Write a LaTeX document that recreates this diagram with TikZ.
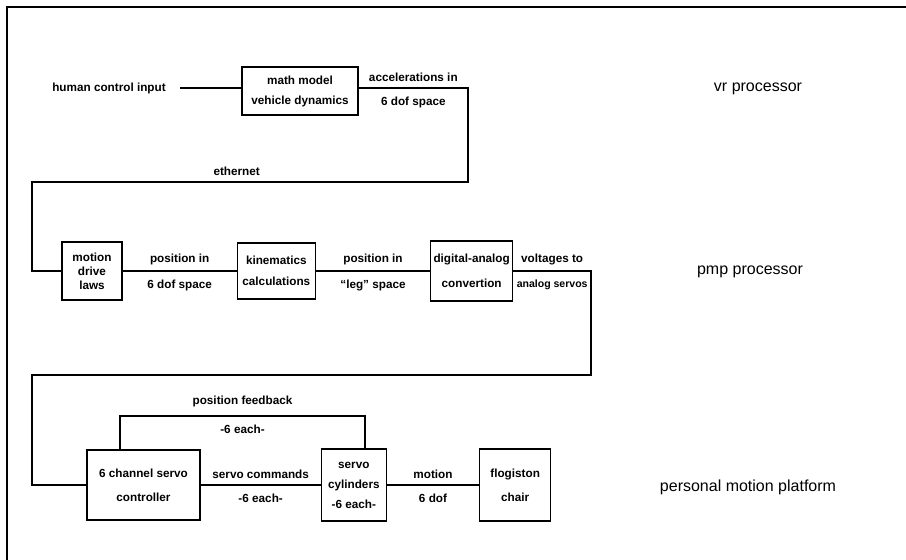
\documentclass[tikz,border=0pt]{standalone}
\usepackage{fontspec}
\setmainfont{Liberation Sans}
\usepackage{tikz}
\usetikzlibrary{positioning}

\begin{document}
\begin{tikzpicture}[x=0.75pt,y=-0.75pt,line width=1.2pt,
    block/.style={draw,line width=1pt,align=center,inner sep=1pt,
        font=\bfseries\fontsize{8.8}{10.5}\selectfont},
    lbl/.style={font=\bfseries\fontsize{8.8}{10.5}\selectfont,inner sep=4pt},
    level/.style={font=\fontsize{12}{14}\selectfont,anchor=center}]

\useasboundingbox (0,0) rectangle (906,560);
\draw (906,7) -- (7,7) -- (7,560);

\node[block,minimum width=87pt,minimum height=36pt] (math) at (300,91)
    {math model\\[4.5pt]vehicle dynamics};
\node[lbl] (hci) at (109,88) {human control input};

\node[block,minimum width=45pt,minimum height=43.5pt] (drive) at (92,271)
    {motion\\drive\\laws};
\node[block,minimum width=58.5pt,minimum height=42pt] (kin) [right=85.5pt of drive]
    {kinematics\\[5pt]calculations};
\node[block,minimum width=61.5pt,minimum height=45pt] (da) [right=85.5pt of kin]
    {digital-analog\\[8pt]convertion};

\node[block,minimum width=84.75pt,minimum height=52.5pt] (ctrl) at (143.5,485)
    {6 channel servo\\[7.5pt]controller};
\node[block,minimum width=48.75pt,minimum height=54pt] (cyl) [right=90pt of ctrl]
    {servo\\[4.5pt]cylinders\\[4.5pt]-6 each-};
\node[block,minimum width=53.25pt,minimum height=54pt] (chair) [right=69pt of cyl]
    {flogiston\\[7.5pt]chair};

\node[level] (vr) at (758,89) {vr processor};
\node[level] (pmp) at (750,272) {pmp processor};
\node[level] (plat) at (748,487) {personal motion platform};

\coordinate (ethR) at (468,182);
\coordinate (ethL) at (32,182);
\coordinate (anaR) at (591,375);
\coordinate (anaL) at (32,375);
\coordinate (fbL) at (120,416);
\coordinate (fbR) at (365,416);

\draw ([xshift=6pt]hci.east) -- (hci.east -| math.west);
\draw (math.east |- hci.east) -| node[lbl,pos=0.25,above] {accelerations in}
        node[lbl,pos=0.25,below,yshift=-2pt] {6 dof space} (ethR)
    -- node[lbl,above,xshift=-10pt] {ethernet} (ethL) |- (drive.west);

\draw (drive) -- node[lbl,above] {position in}
    node[lbl,below,yshift=-2pt] {6 dof space} (kin);
\draw (kin) -- node[lbl,above] {position in}
    node[lbl,below,yshift=-2pt] {``leg'' space} (da);
\draw (da.east) -| node[lbl,pos=0.25,above] {voltages to}
        node[lbl,pos=0.25,below,yshift=-2pt,
             font=\bfseries\fontsize{7.9}{10}\selectfont] {analog servos} (anaR)
    -- (anaL) |- (ctrl.west);

\draw (fbL |- ctrl.north) -- (fbL)
    -- node[lbl,above,yshift=2pt] {position feedback}
       node[lbl,below,yshift=-2pt] {-6 each-} (fbR) -- (fbR |- cyl.north);
\draw (ctrl) -- node[lbl,above] {servo commands}
    node[lbl,below,yshift=-2pt] {-6 each-} (cyl);
\draw (cyl) -- node[lbl,above] {motion}
    node[lbl,below,yshift=-2pt] {6 dof} (chair);

\end{tikzpicture}
\end{document}
